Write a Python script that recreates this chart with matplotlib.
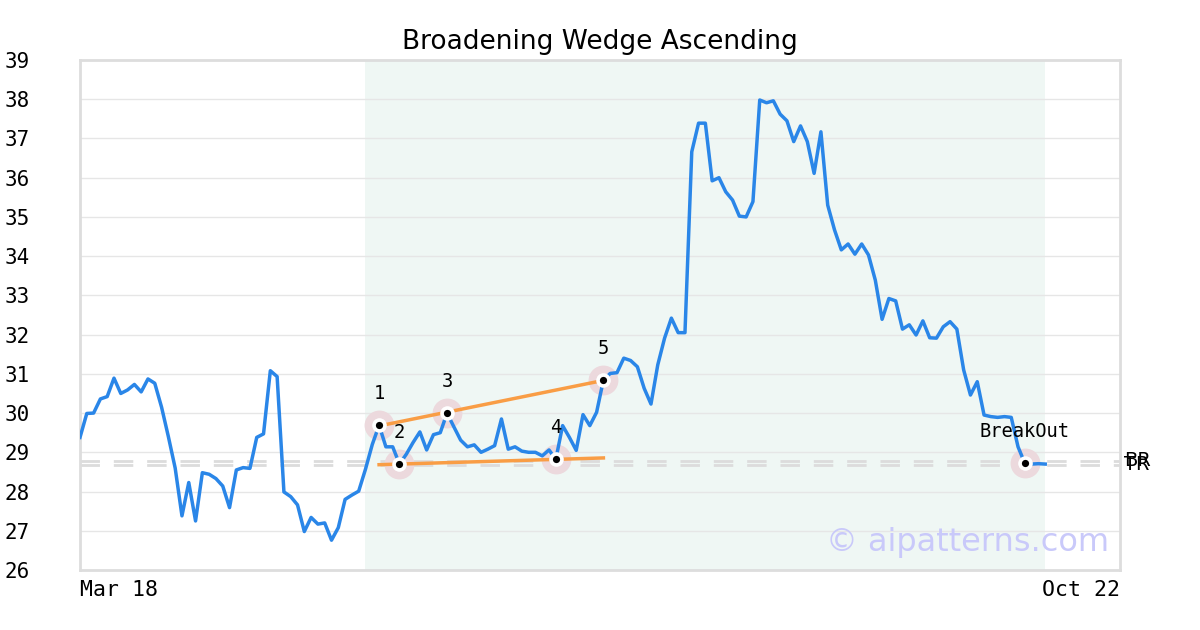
import numpy as np
import matplotlib
matplotlib.use("Agg")
import matplotlib.pyplot as plt
import matplotlib.transforms as mtransforms

title = "Broadening Wedge Ascending"
date_labels = ["Mar 18", "Oct 22"]

# daily closes (index = trading day)
prices = [
    29.38, 29.99, 30.00, 30.36, 30.42, 30.89, 30.50, 30.59, 30.73, 30.54,
    30.87, 30.76, 30.15, 29.40, 28.60, 27.38, 28.23, 27.25, 28.48, 28.44,
    28.33, 28.14, 27.59, 28.55, 28.61, 28.59, 29.38, 29.47, 31.08, 30.93,
    27.99, 27.87, 27.66, 26.98, 27.34, 27.17, 27.20, 26.76, 27.08, 27.80,
    27.91, 28.01, 28.57, 29.20, 29.69, 29.14, 29.14, 28.70, 28.95, 29.25,
    29.52, 29.06, 29.45, 29.50, 30.00, 29.65, 29.31, 29.14, 29.19, 29.00,
    29.08, 29.17, 29.85, 29.08, 29.14, 29.03, 29.00, 29.00, 28.91, 29.06,
    28.82, 29.68, 29.38, 29.05, 29.96, 29.68, 30.02, 30.84, 31.01, 31.03,
    31.40, 31.34, 31.18, 30.63, 30.23, 31.23, 31.91, 32.42, 32.05, 32.05,
    36.66, 37.39, 37.39, 35.92, 36.00, 35.64, 35.43, 35.02, 35.00, 35.39,
    37.98, 37.91, 37.96, 37.62, 37.45, 36.92, 37.32, 36.92, 36.11, 37.17,
    35.30, 34.67, 34.16, 34.31, 34.05, 34.31, 34.03, 33.39, 32.39, 32.92,
    32.86, 32.14, 32.25, 31.99, 32.35, 31.92, 31.91, 32.20, 32.33, 32.14,
    31.10, 30.46, 30.80, 29.95, 29.91, 29.89, 29.91, 29.89, 29.14, 28.72,
    28.70, 28.71, 28.70,
]

# pattern points: index into prices, label
pivot_idx = [44, 47, 54, 70, 77, 139]
pivot_labels = ["1", "2", "3", "4", "5", "BreakOut"]
upper_idx = [44, 54, 77]   # 1-3-5
lower_idx = [47, 70]       # 2-4
pattern_span = [42, 142]

level_names = ["BR", "TR"]
level_values = [28.79, 28.68]

x = np.arange(len(prices))
y = np.array(prices)

fig = plt.figure(figsize=(12, 6.3), dpi=100)
ax = fig.add_axes([80 / 1200, 60 / 630, 1040 / 1200, 510 / 630])

ax.axvspan(pattern_span[0], pattern_span[1], color="#eff7f4", zorder=0, lw=0)

for v in range(26, 40):
    ax.axhline(v, color="#e6e6e6", lw=1, zorder=1)

for v in level_values:
    ax.axhline(v, color="#dcdcdc", lw=2, ls=(0, (7, 5)), zorder=1)

px = x[pivot_idx]
py = y[pivot_idx]
# soft halo behind the lines
ax.plot(px, py, ls="None", marker="o", markersize=21.5, markerfacecolor="#ecd9dd",
        markeredgewidth=0, zorder=2)

ax.plot(x, y, color="#2a86e8", lw=2.5, zorder=3)

# wedge lines, fitted through the pivots
up = np.polyfit(upper_idx, y[upper_idx], 1)
lo = np.polyfit(lower_idx, y[lower_idx], 1)
xs = np.array([pivot_idx[0], pivot_idx[4]])
ax.plot(xs, np.polyval(up, xs), color="#f99d45", lw=2.5, zorder=4)
ax.plot(xs, np.polyval(lo, xs), color="#f99d45", lw=2.5, zorder=4)

ax.plot(px, py, ls="None", marker="o", markersize=10.5, markerfacecolor="white",
        markeredgewidth=0, zorder=6)
ax.plot(px, py, ls="None", marker="o", markersize=5.2, markerfacecolor="black",
        markeredgewidth=0, zorder=7)

for xi, yi, lab in zip(px, py, pivot_labels):
    ax.annotate(lab, (xi, yi), xytext=(0, 16), textcoords="offset points",
                ha="center", va="bottom", fontsize=13.5, family="DejaVu Sans Mono",
                zorder=8)

trans = mtransforms.blended_transform_factory(ax.transAxes, ax.transData)
for name, v in zip(level_names, level_values):
    ax.text(1.004, v, name, transform=trans, ha="left", va="center",
            fontsize=14, clip_on=False)

ax.text(0.99, 0.053, "\u00a9 aipatterns.com", transform=ax.transAxes,
        ha="right", va="center", fontsize=23, color="#c9c9fa", zorder=2)

ax.set_xlim(0, 153)
ax.set_ylim(26, 39)
ax.set_yticks(range(26, 40))
ax.set_yticklabels([str(v) for v in range(26, 40)], family="DejaVu Sans Mono",
                   fontsize=15, ha="left")
ax.tick_params(axis="y", length=0, pad=54)
ax.set_xticks([0, 153])
ax.set_xticklabels(date_labels, family="DejaVu Sans Mono", fontsize=15.5)
xt = ax.get_xticklabels()
xt[0].set_ha("left")
xt[1].set_ha("right")
ax.tick_params(axis="x", length=0, pad=7)

for s in ax.spines.values():
    s.set_color("#dddddd")
    s.set_linewidth(2)

ax.set_title(title, fontsize=19, pad=8)

fig.savefig("out.png", dpi=100)
